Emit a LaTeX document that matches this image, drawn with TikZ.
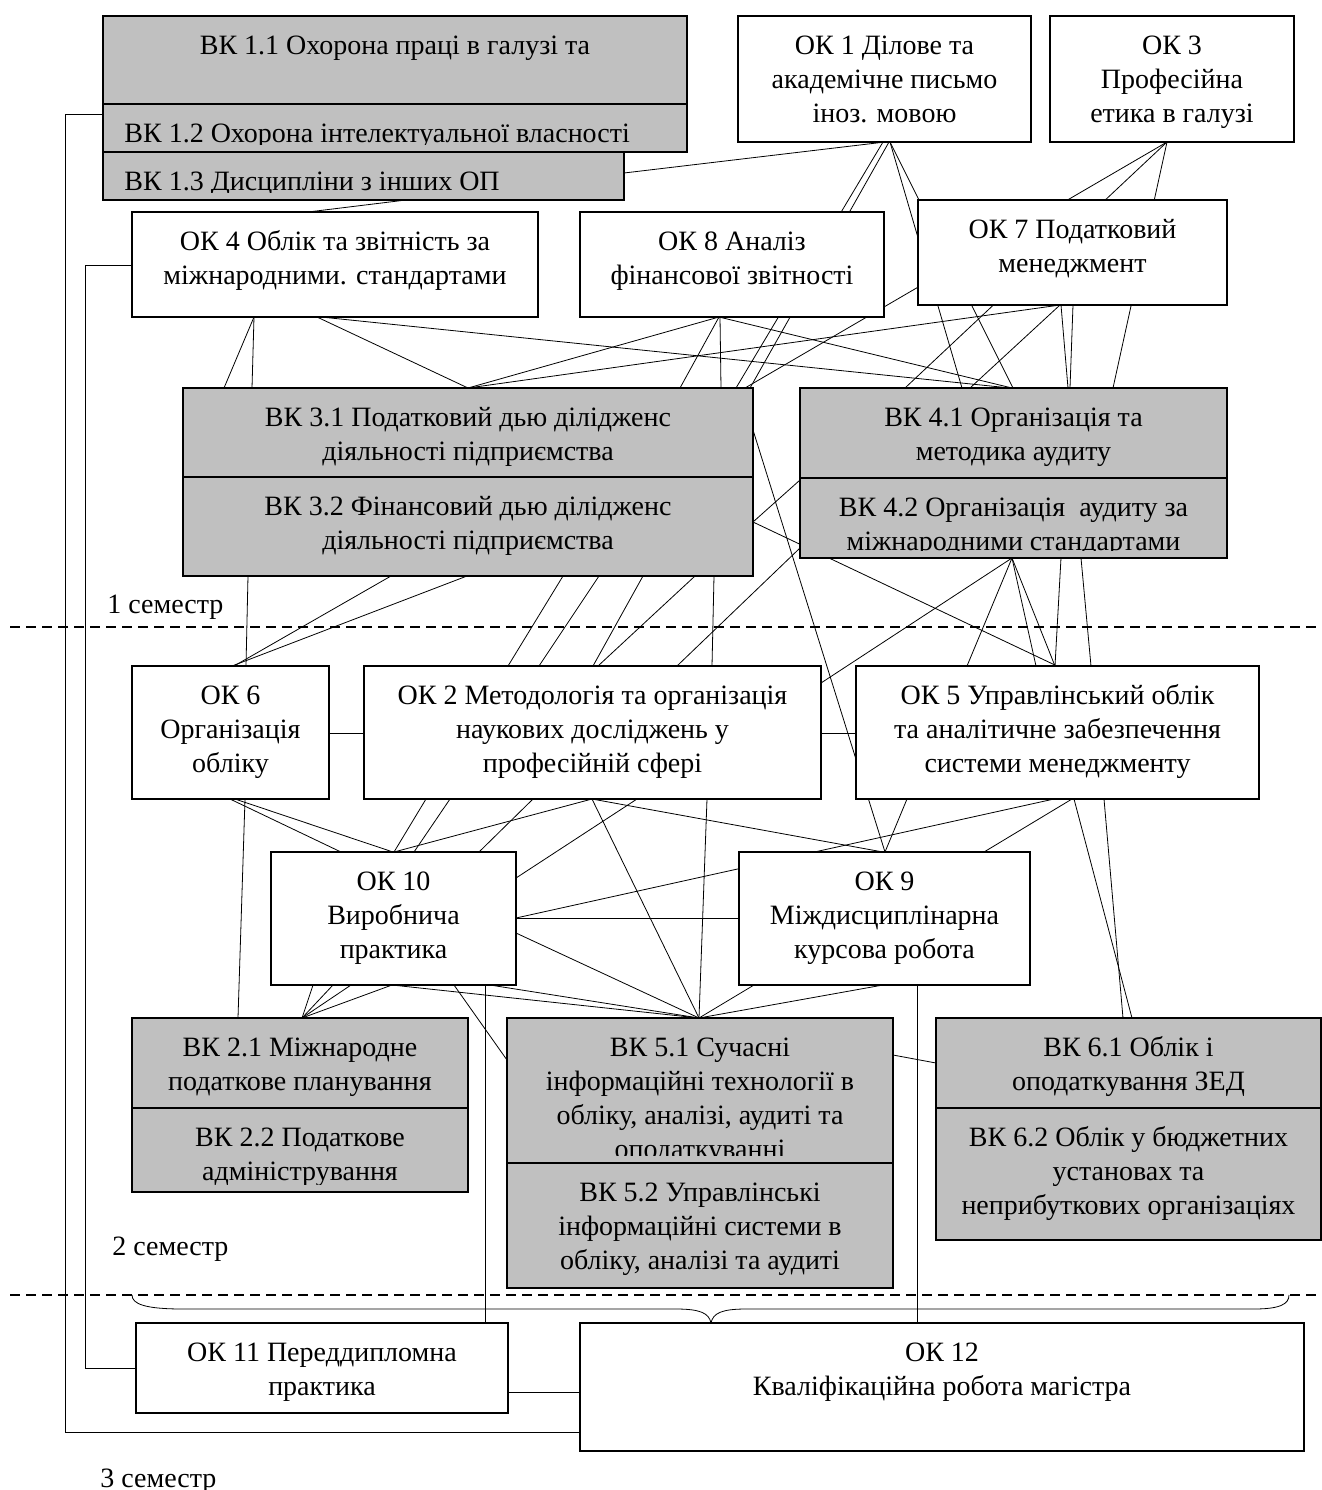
\documentclass[tikz,border=0pt]{standalone}
\usepackage{fontspec}
\setmainfont{Liberation Serif}
\usetikzlibrary{fit,backgrounds}
\definecolor{boxgray}{RGB}{192,192,192}
\tikzset{
  box/.style={draw, line width=1.2pt, inner sep=0pt, outer sep=0pt, fill=white, rectangle},
  gbox/.style={box, fill=boxgray},
  txt/.style={font=\fontsize{14pt}{17pt}\selectfont, align=center, inner sep=0pt},
  ln/.style={line width=1pt},
  sem/.style={line width=1pt, dash pattern=on 5pt off 3pt},
}
\newcommand\btext[2]{%
  \begin{scope}
    \clip ([yshift=-3pt]#1.north west) rectangle ([yshift=3.6pt]#1.south east);
    \node[txt, anchor=north] at ([yshift=-7pt]#1.north) {\strut #2};
  \end{scope}}
\newcommand\btextl[2]{%
  \begin{scope}
    \clip ([yshift=-3pt]#1.north west) rectangle ([yshift=3.6pt]#1.south east);
    \node[txt, anchor=north west, align=left] at ([xshift=10.5pt,yshift=-7pt]#1.north west) {\strut #2};
  \end{scope}}
\begin{document}
\begin{tikzpicture}[x=0.5pt, y=-0.5pt]
\useasboundingbox (0,0) rectangle (1322,1490);

% ---------- boxes ----------
\node[gbox, fit={(103,16) (687,104)}] (vk11) {};
\node[gbox, fit={(103,104) (687,152)}] (vk12) {};
\node[gbox, fit={(103,152) (624,200)}] (vk13) {};
\node[box, fit={(738,16) (1031,142)}] (ok1) {};
\node[box, fit={(1050,16) (1294,142)}] (ok3) {};
\node[box, fit={(132,212) (538,317)}] (ok4) {};
\node[box, fit={(580,212) (884,317)}] (ok8) {};
\node[box, fit={(918,200) (1227,305)}] (ok7) {};
\node[gbox, fit={(183,388) (753,477)}] (vk31) {};
\node[gbox, fit={(183,477) (753,576)}] (vk32) {};
\node[gbox, fit={(800,388) (1227,478)}] (vk41) {};
\node[gbox, fit={(800,478) (1227,558)}] (vk42) {};
\node[box, fit={(132,666) (329,799)}] (ok6) {};
\node[box, fit={(364,666) (821,799)}] (ok2) {};
\node[box, fit={(856,666) (1259,799)}] (ok5) {};
\node[box, fit={(271,852) (516,985)}] (ok10) {};
\node[box, fit={(739,852) (1030,985)}] (ok9) {};
\node[gbox, fit={(132,1018) (468,1108)}] (vk21) {};
\node[gbox, fit={(132,1108) (468,1192)}] (vk22) {};
\node[gbox, fit={(507,1018) (893,1163)}] (vk51) {};
\node[gbox, fit={(507,1163) (893,1288)}] (vk52) {};
\node[gbox, fit={(936,1018) (1321,1108)}] (vk61) {};
\node[gbox, fit={(936,1108) (1321,1240)}] (vk62) {};
\node[box, fit={(136,1323) (508,1413)}] (ok11) {};
\node[box, fit={(580,1323) (1304,1451)}] (ok12) {};

% ---------- texts ----------
\btext{vk11}{ВК 1.1 Охорона праці в галузі та}
\btextl{vk12}{ВК 1.2 Охорона інтелектуальної власності}
\btextl{vk13}{ВК 1.3 Дисципліни з інших ОП}
\btext{ok1}{ОК 1 Ділове та\\академічне письмо\\іноз. мовою}
\btext{ok3}{ОК 3\\Професійна\\етика в галузі}
\btext{ok4}{ОК 4 Облік та звітність за\\міжнародними. стандартами}
\btext{ok8}{ОК 8 Аналіз\\фінансової звітності}
\btext{ok7}{ОК 7 Податковий\\менеджмент}
\btext{vk31}{ВК 3.1 Податковий дью ділідженс\\діяльності підприємства}
\btext{vk32}{ВК 3.2 Фінансовий дью ділідженс\\діяльності підприємства}
\btext{vk41}{ВК 4.1 Організація та\\методика аудиту}
\btext{vk42}{ВК 4.2 Організація~ аудиту за\\міжнародними стандартами}
\btext{ok6}{ОК 6\\Організація\\обліку}
\btext{ok2}{ОК 2 Методологія та організація\\наукових досліджень у\\професійній сфері}
\btext{ok5}{ОК 5 Управлінський облік\\та аналітичне забезпечення\\системи менеджменту}
\btext{ok10}{ОК 10\\Виробнича\\практика}
\btext{ok9}{ОК 9\\Міждисциплінарна\\курсова робота}
\btext{vk21}{ВК 2.1 Міжнародне\\податкове планування}
\btext{vk22}{ВК 2.2 Податкове\\адміністрування}
\btext{vk51}{ВК 5.1 Сучасні\\інформаційні технології в\\обліку, аналізі, аудиті та\\оподаткуванні}
\btext{vk52}{ВК 5.2 Управлінські\\інформаційні системи в\\обліку, аналізі та аудиті}
\btext{vk61}{ВК 6.1 Облік і\\оподаткування ЗЕД}
\btext{vk62}{ВК 6.2 Облік у бюджетних\\установах та\\неприбуткових організаціях}
\btext{ok11}{ОК 11 Переддипломна\\практика}
\btext{ok12}{ОК 12\\Кваліфікаційна робота магістра}

\node[txt, anchor=base west] (s1) at (107,613) {1 семестр};
\node[txt, anchor=base west] (s2) at (112,1255) {2 семестр};
\node[txt, anchor=base west] (s3) at (100,1487) {3 семестр};

% ---------- connectors ----------
\begin{scope}[on background layer, ln]
% top
\draw (vk13.south -| 406,0) -- (ok4.north -| 308,0);
\draw (vk13.east |- 0,173) -- (ok1.south -| 885,0);
\draw (ok1.south -| 883,0) -- (vk31.north -| 736,0);
\draw (ok1.south -| 889,0) -- (vk31.north -| 750,0);
\draw (ok1.south -| 890,0) -- (vk41.north -| 1013,0);
\draw (ok1.south -| 890,0) -- (vk41.north -| 962,0);
\draw (ok3.south -| 1167,0) -- (vk31.north -| 745,0);
\draw (ok3.south -| 1167,0) -- (vk41.north -| 905,0);
\draw (ok3.south -| 1167,0) -- (vk41.north -| 1113,0);
\draw (ok4.south -| 254,0) -- (vk31.north -| 224,0);
\draw (ok4.south -| 254,0) -- (vk31.north -| 252,0);
\draw (ok4.south -| 317,0) -- (vk31.north -| 468,0);
\draw (ok4.south -| 321,0) -- (vk41.north -| 1010,0);
\draw (vk31.north -| 468,0) -- (ok8.south -| 719,0);
\draw (vk31.north -| 468,0) -- (ok7.south -| 1060,0);
\draw (ok8.south -| 719,0) -- (vk31.north -| 680,0);
\draw (ok8.south -| 720,0) -- (vk31.north -| 721,0);
\draw (ok8.south -| 719,0) -- (vk41.north -| 1012,0);
\draw (ok7.south -| 1060,0) -- (vk41.north -| 970,0);
\draw (ok7.south -| 1061,0) -- (vk41.north -| 1068,0);
\draw (ok7.south -| 1073,0) -- (vk41.north -| 1070,0);
% middle
\draw (vk32.south -| 248,0) -- (ok6.north -| 246,0);
\draw (vk32.south -| 391,0) -- (ok6.north -| 234,0);
\draw (vk32.south -| 467,0) -- (ok6.north -| 232,0);
\draw (vk32.south -| 563,0) -- (ok2.north -| 508,0);
\draw (vk32.south -| 599,0) -- (ok2.north -| 539,0);
\draw (vk32.south -| 643,0) -- (ok2.north -| 593,0);
\draw (vk32.south -| 695,0) -- (ok2.north -| 598,0);
\draw (vk32.south -| 714,0) -- (ok2.north -| 712,0);
\draw (vk42.west |- 0,548) -- (ok2.north -| 677,0);
\draw (vk32.east |- 0,522) -- (vk42.west |- 0,480);
\draw (vk32.east |- 0,522) -- (ok5.north -| 1057,0);
\draw (vk31.east |- 0,430) -- (ok9.north -| 885,0);
\draw (vk42.south -| 1012,0) -- (ok2.east |- 0,683);
\draw (vk42.south -| 1012,0) -- (ok5.north -| 967,0);
\draw (vk42.south -| 1012,0) -- (ok5.north -| 1036,0);
\draw (vk42.south -| 1012,0) -- (ok5.north -| 1055,0);
\draw (vk42.south -| 1061,0) -- (ok5.north -| 1055,0);
\draw (vk42.south -| 1081,0) -- (ok5.north -| 1091,0);
\draw (ok6.east |- 0,733) -- (ok2.west |- 0,733);
\draw (ok2.east |- 0,733) -- (ok5.west |- 0,733);
% lower middle
\draw (ok6.south -| 230,0) -- (ok10.north -| 341,0);
\draw (ok6.south -| 235,0) -- (ok10.north -| 393,0);
\draw (ok6.south -| 245,0) -- (vk21.north -| 238,0);
\draw (ok2.south -| 426,0) -- (ok10.north -| 394,0);
\draw (ok2.south -| 450,0) -- (ok10.north -| 414,0);
\draw (ok2.south -| 533,0) -- (ok10.north -| 479,0);
\draw (ok2.south -| 592,0) -- (ok10.north -| 394,0);
\draw (ok2.south -| 592,0) -- (vk51.north -| 699,0);
\draw (ok2.south -| 592,0) -- (ok9.north -| 883,0);
\draw (ok2.south -| 637,0) -- (ok10.east |- 0,878);
\draw (ok2.south -| 707,0) -- (vk51.north -| 699,0);
\draw (ok10.east |- 0,918) -- (ok5.south -| 1054,0);
\draw (ok10.east |- 0,918) -- (ok9.west |- 0,918);
\draw (ok10.east |- 0,933) -- (vk51.north -| 699,0);
\draw (ok5.south -| 907,0) -- (ok9.north -| 885,0);
\draw (ok5.south -| 1072,0) -- (ok9.north -| 984,0);
\draw (ok5.south -| 1074,0) -- (vk61.north -| 1132,0);
\draw (ok5.south -| 1104,0) -- (vk61.north -| 1123,0);
% bottom
\draw (ok10.south -| 313,0) -- (vk21.north -| 302,0);
\draw (ok10.south -| 333,0) -- (vk21.north -| 302,0);
\draw (ok10.south -| 351,0) -- (vk21.north -| 302,0);
\draw (ok10.south -| 392,0) -- (vk21.north -| 302,0);
\draw (ok10.south -| 392,0) -- (vk51.north -| 699,0);
\draw (ok10.south -| 454,0) -- (vk51.west |- 0,1060);
\draw (ok10.south -| 485,0) -- (ok11.north -| 485,0);
\draw (ok10.south -| 490,0) -- (vk51.north -| 699,0);
\draw (ok9.south -| 754,0) -- (vk51.north -| 699,0);
\draw (ok9.south -| 883,0) -- (vk51.north -| 699,0);
\draw (ok9.south -| 917,0) -- (ok12.north -| 917,0);
\draw (vk51.east |- 0,1055) -- (vk61.west |- 0,1063);
\draw (ok11.east |- 0,1392) -- (ok12.west |- 0,1392);
\draw (vk11.west |- 0,114) -- ++(-38,0) |- (ok12.west |- 0,1432);
\draw (ok4.west |- 0,265) -- ++(-47,0) |- (ok11.west |- 0,1368);
% semester separators and brace
\draw[sem] (10,627) -- (1322,627);
\draw[sem] (10,1295) -- (1322,1295);
\draw (132,1295) .. controls (132,1304) and (145,1309) .. (183,1309) -- (676,1309)
  .. controls (700,1309) and (709,1313) .. (711,1323)
  .. controls (713,1313) and (722,1309) .. (746,1309) -- (1254,1309)
  .. controls (1280,1309) and (1289,1304) .. (1289,1295);
\end{scope}
\end{tikzpicture}
\end{document}
